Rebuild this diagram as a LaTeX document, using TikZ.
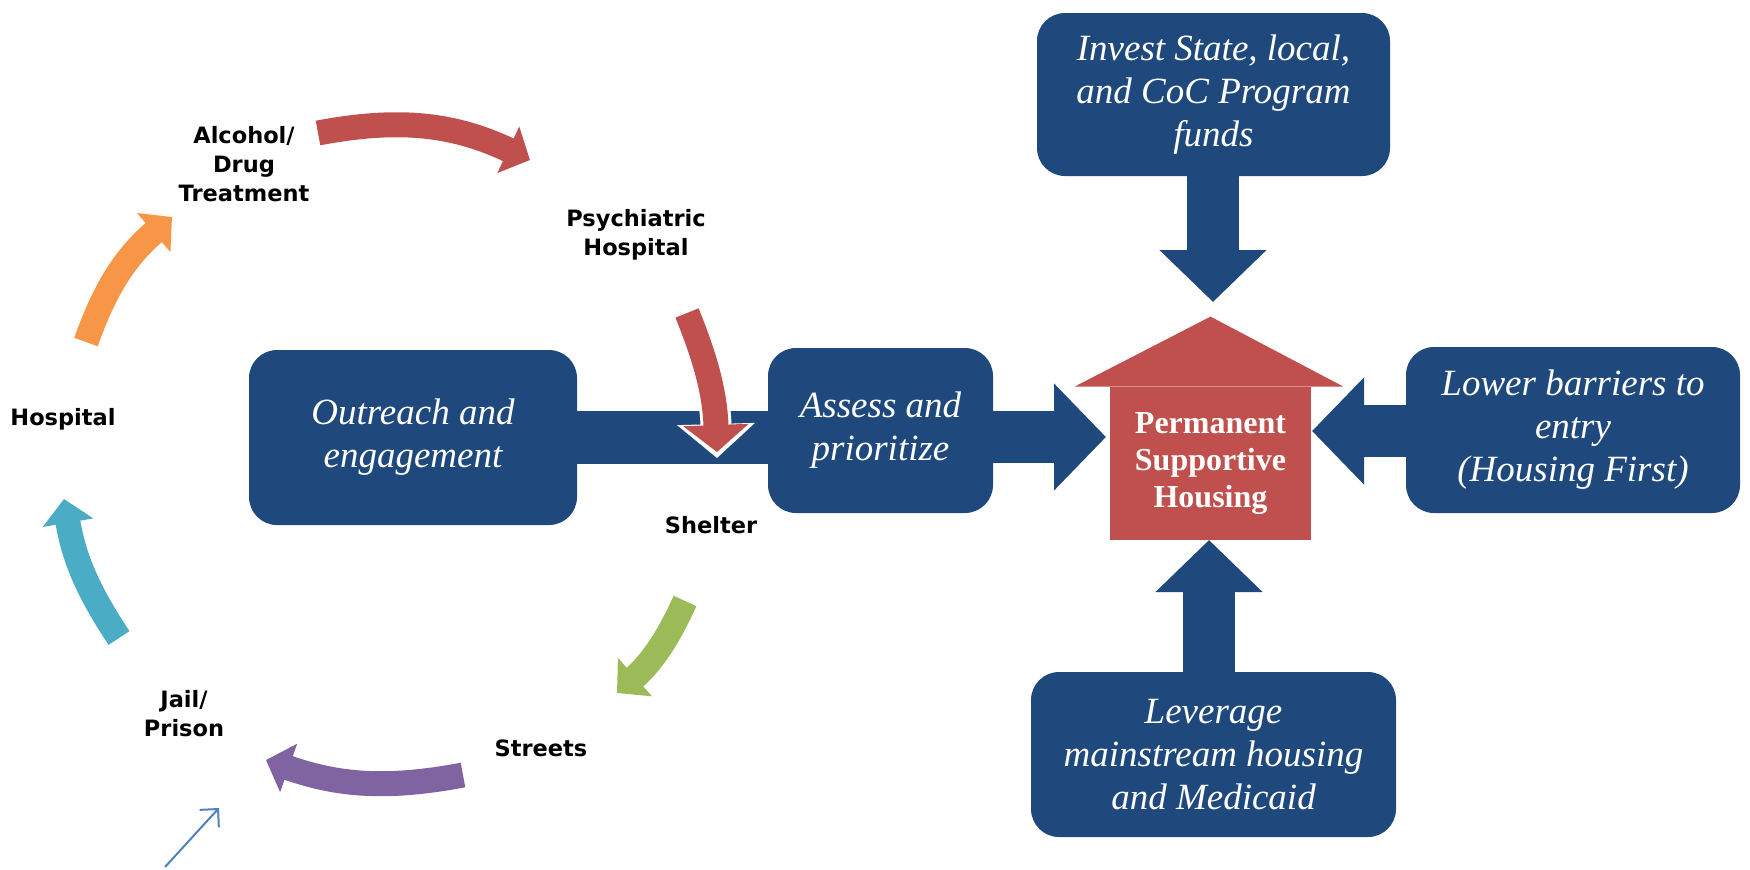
\documentclass[tikz,border=0pt]{standalone}
\usepackage{fontspec}
\setmainfont{Liberation Serif}
\newfontfamily\labfont{DejaVu Sans}
\usetikzlibrary{arrows.meta}
\definecolor{boxblue}{HTML}{1F497D}
\definecolor{housered}{HTML}{C0504D}
\definecolor{cyred}{HTML}{C0504D}
\definecolor{cyorange}{HTML}{F79646}
\definecolor{cyteal}{HTML}{4BACC6}
\definecolor{cypurple}{HTML}{8064A2}
\definecolor{cygreen}{HTML}{9BBB59}
\definecolor{thinblue}{HTML}{4F81BD}
\begin{document}
\begin{tikzpicture}[x=0.5pt,y=0.5pt,
  bluebox/.style={fill=boxblue, rounded corners=14pt, inner sep=0pt, text=white, align=center,
    font=\itshape\fontsize{18.5}{21.5}\selectfont},
  lab/.style={font=\labfont\bfseries\fontsize{11.25}{14.5}\selectfont, align=center, inner sep=0pt},
  blockarrow/.style={draw=boxblue, line width=26pt, -{Triangle[length=26pt,width=52pt]}},
  cyclearrow/.style={line width=12.5pt, -{Triangle[length=12pt,width=25pt]}},
]
\useasboundingbox (0,0) rectangle (1750,-869);

% boxes
\node[bluebox, minimum width=164pt, minimum height=87.5pt] (out) at (413,-437.5) {Outreach and\\engagement};
\node[bluebox, minimum width=112.5pt, minimum height=82.5pt] (assess) at (880.5,-430.5) {Assess and\\prioritize};
\node[bluebox, minimum width=176.5pt, minimum height=81.5pt] (invest) at (1213.5,-94.5) {Invest State, local,\\and CoC Program\\funds};
\node[bluebox, minimum width=182.5pt, minimum height=82.5pt] (lever) at (1213.5,-754.5) {Leverage\\mainstream housing\\and Medicaid};
\node[bluebox, minimum width=167pt, minimum height=83pt] (lower) at (1573,-430) {Lower barriers to\\entry\\(Housing First)};

% house
\node[fill=housered, minimum width=100.5pt, minimum height=76.5pt, inner sep=0pt] (house) at (1210.5,-463.5) {};
\fill[housered] ([xshift=-17.5pt]house.north west) -- ([yshift=35pt]house.north) -- ([xshift=16pt]house.north east) -- cycle;
\node[text=white, align=center, font=\bfseries\fontsize{16}{18.5}\selectfont] (housetxt) at (house.center) {Permanent\\Supportive\\Housing};

% tip coordinates of the block arrows
\coordinate (tinv) at (1213,-302);
\coordinate (tlev) at (1209,-540);
\coordinate (tlow) at (1312,-431);
\coordinate (tass) at (1106,-437);

% block connectors
\draw[draw=boxblue, line width=26.5pt] (out.east) -- (out.east -| assess.west);
\draw[blockarrow] (tinv |- invest.south) -- (tinv);
\draw[blockarrow] (tlev |- lever.north) -- (tlev);
\draw[blockarrow] (lower.west |- tlow) -- (tlow);
\draw[blockarrow] (assess.east |- tass) -- (tass);

% cycle labels
\node[lab] (alc) at (244,-164) {Alcohol/\\Drug\\Treatment};
\node[lab] (psy) at (636,-235) {Psychiatric\\Hospital};
\node[lab] (shel) at (711,-525) {Shelter};
\node[lab] (str) at (541,-748) {Streets};
\node[lab] (jail) at (184,-714) {Jail/\\Prison};
\node[lab] (hosp) at (63,-419) {Hospital};

% cycle arrow ends
\coordinate (c1a) at (318,-133); \coordinate (c1b) at (530,-160);
\coordinate (c2a) at (86,-342);  \coordinate (c2b) at (172,-217);
\coordinate (c3a) at (119,-638); \coordinate (c3b) at (64,-499);
\coordinate (c4a) at (463,-775); \coordinate (c4b) at (266,-760);
\coordinate (c5a) at (685,-601); \coordinate (c5b) at (617,-693);
\coordinate (c6a) at (687,-313); \coordinate (c6b) at (717,-452);
\coordinate (c6w) at (717,-458);

\draw[cyclearrow, draw=cyred] (c1a) to[bend left=18] (c1b);
\draw[cyclearrow, draw=cyorange] (c2a) to[bend left=15] (c2b);
\draw[cyclearrow, draw=cyteal] (c3a) to[bend left=12] (c3b);
\draw[cyclearrow, draw=cypurple] (c4a) to[bend left=15] (c4b);
\draw[cyclearrow, draw=cygreen] (c5a) to[bend left=12] (c5b);
\draw[draw=white, line width=15.5pt, -{Triangle[length=17pt,width=38pt]}] (c6a) to[bend left=10] (c6w);
\draw[draw=cyred, line width=12.5pt, -{Triangle[length=13.5pt,width=32pt]}] (c6a) to[bend left=10] (c6b);

% thin arrow
\coordinate (sa) at (165,-867);
\coordinate (sb) at (219,-808);
\draw[draw=thinblue, line width=1pt, -{Straight Barb[length=6.5pt,width=13pt]}] (sa) -- (sb);
\end{tikzpicture}
\end{document}
